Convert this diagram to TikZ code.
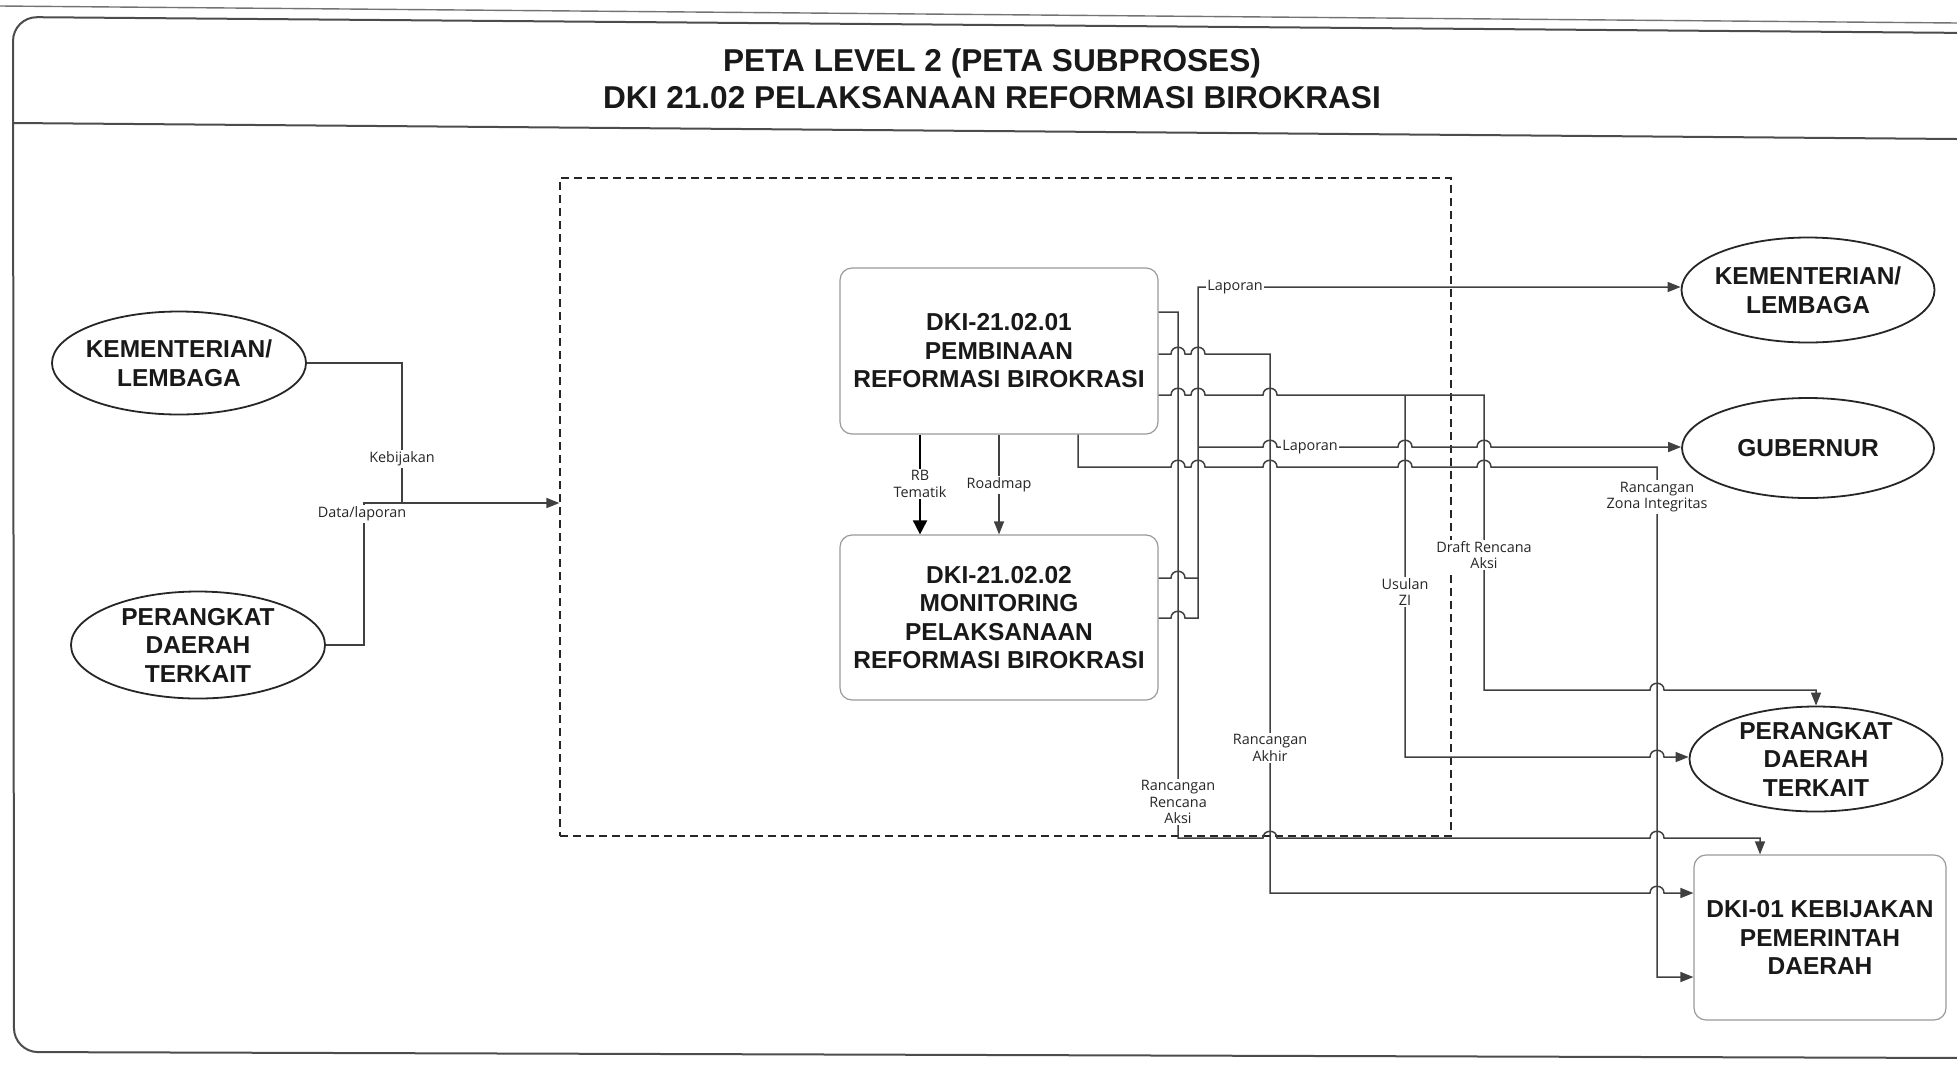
\documentclass[tikz,border=0pt]{standalone}
\usepackage{fontspec}
\setmainfont{Liberation Sans}
\newfontfamily\lblfont{Open Sans}
\usetikzlibrary{shapes.geometric,arrows.meta}
\begin{document}
\begin{tikzpicture}[x=0.5pt,y=-0.5pt,
  ln/.style={draw=black!75, line width=0.75pt},
  arr/.style={ln, -{Triangle[length=6.5pt,width=5pt]}},
  bigfont/.style={font=\fontsize{12.25}{14.25}\selectfont\bfseries},
  ent/.style={ellipse, draw=black!85, line width=0.9pt, inner sep=-4pt, align=center, bigfont, text=black!90},
  proc/.style={rectangle, rounded corners=6pt, draw=black!40, line width=0.6pt, inner sep=0pt, align=center, bigfont, text=black!90},
  lbl/.style={fill=white, inner sep=0.8pt, align=center, font=\lblfont\fontsize{7.2}{8.25}\selectfont, text=black!85},
  hop/.style 2 args={insert path={-- ({#1-7},#2) .. controls ({#1-7},{#2-9}) and ({#1+7},{#2-9}) .. ({#1+7},#2)}},
  frame/.style={draw=black!70, line width=1pt}
]
\useasboundingbox (0,0) rectangle (1957,1072);
% frame
\draw[frame, line width=0.7pt, draw=black!55] (0,6) -- (1957,23);
\draw[frame, rounded corners=12pt] (1975,33) -- (13,17) -- (14,1052) -- (1975,1058);
\draw[frame] (13,123) -- (1957,139);
% title
\node[font=\fontsize{15.8}{18.5}\selectfont\bfseries, align=center, text=black!90] (title) at (992,79)
  {PETA LEVEL 2 (PETA SUBPROSES)\\DKI 21.02 PELAKSANAAN REFORMASI BIROKRASI};
% group
\node[draw=black!85, dash pattern=on 4pt off 2.5pt, line width=0.6pt, minimum width=445.5pt, minimum height=329pt, inner sep=0pt] (grp) at (1005.5,507) {};
% nodes
\node[ent, minimum width=127pt, minimum height=51.5pt] (kl1) at (179,363) {KEMENTERIAN/\\LEMBAGA};
\node[ent, minimum width=127pt, minimum height=53.5pt] (pd1) at (198,645) {PERANGKAT\\DAERAH\\TERKAIT};
\node[ent, minimum width=126.5pt, minimum height=52.5pt] (kl2) at (1808,290) {KEMENTERIAN/\\LEMBAGA};
\node[ent, minimum width=126pt, minimum height=50pt] (gub) at (1808,448) {GUBERNUR};
\node[ent, minimum width=126.5pt, minimum height=52.5pt] (pd2) at (1816,759) {PERANGKAT\\DAERAH\\TERKAIT};
\node[proc, minimum width=159pt, minimum height=83pt] (b1) at (999,351) {DKI-21.02.01\\PEMBINAAN\\REFORMASI BIROKRASI};
\node[proc, minimum width=159pt, minimum height=82.5pt] (b2) at (999,617.5) {DKI-21.02.02\\MONITORING\\PELAKSANAAN\\REFORMASI BIROKRASI};
\node[proc, minimum width=126pt, minimum height=82.5pt] (d01) at (1820,937.5) {DKI-01 KEBIJAKAN\\PEMERINTAH\\DAERAH};
% helper levels
\coordinate (jn) at (402,503);
\coordinate (hA) at (0,312);
\coordinate (hB) at (0,354);
\coordinate (hC) at (0,395);
\coordinate (hL1) at (0,287);
\coordinate (hL2) at (0,447);
\coordinate (hD) at (0,467);
\coordinate (h2a) at (0,578);
\coordinate (h2b) at (0,618);
\coordinate (hDr) at (0,690);
\coordinate (hUs) at (0,757);
\coordinate (hRA) at (0,838);
\coordinate (hAk) at (0,893);
\coordinate (hZI) at (0,977);
\coordinate (vA) at (1178,0);
\coordinate (vL) at (1198,0);
\coordinate (vB) at (1270,0);
\coordinate (vU) at (1405,0);
\coordinate (vDr) at (1484,0);
\coordinate (vZ) at (1657,0);
\coordinate (vD) at (1078,0);
\coordinate (vRB) at (920,0);
\coordinate (vAe) at (1760,0);
% left inputs
\draw[ln] (kl1.east) -| (jn);
\draw[arr] (pd1.east) -| (364,503) -- (grp.west |- jn);
% internal arrows
\draw[draw=black, line width=0.9pt, -{Triangle[length=7pt,width=7pt]}] (b1.south -| vRB) -- (b2.north -| vRB);
\draw[arr] (b1.south) -- (b2.north);
% outputs box 1
\draw[arr] (b1.east |- hA) -- (vA |- hA) -- (vA |- hRA) [hop={1270}{838}] [hop={1657}{838}] -- (vAe |- hRA) -- (d01.north -| vAe);
\draw[arr] (b1.east |- hB) [hop={1178}{354}] [hop={1198}{354}] -- (vB |- hB) -- (vB |- hAk) [hop={1657}{893}] -- (d01.west |- hAk);
\draw[arr] (b1.east |- hC) [hop={1178}{395}] [hop={1198}{395}] [hop={1270}{395}] -- (vDr |- hC) -- (vDr |- hDr) [hop={1657}{690}] -- (pd2.north |- hDr) -- (pd2.north);
\draw[arr] (vU |- hC) -- (vU |- hUs) [hop={1657}{757}] -- (pd2.west |- hUs);
\draw[arr] (b1.south -| vD) -- (vD |- hD) [hop={1178}{467}] [hop={1198}{467}] [hop={1270}{467}] [hop={1405}{467}] [hop={1484}{467}] -- (vZ |- hD) -- (vZ |- hZI) -- (d01.west |- hZI);
% outputs box 2
\draw[arr] (b2.east |- h2a) [hop={1178}{578}] -- (vL |- h2a) -- (vL |- hL1) -- (kl2.west |- hL1);
\draw[ln] (b2.east |- h2b) [hop={1178}{618}] -- (vL |- h2b) -- (vL |- h2a);
\draw[arr] (vL |- hL2) [hop={1270}{447}] [hop={1405}{447}] [hop={1484}{447}] -- (gub.west |- hL2);
% labels
\node[lbl] (lk) at (402,459) {Kebijakan};
\node[lbl] (ld) at (362,514) {Data/laporan};
\node[lbl] (lrb) at (920,484) {RB\\Tematik};
\node[lbl] (lrm) at (999,485) {Roadmap};
\node[lbl] (ll1) at (1235,287) {Laporan};
\node[lbl] (ll2) at (1310,447) {Laporan};
\node[lbl] (lzi) at (1657,497) {Rancangan\\Zona Integritas};
\node[lbl] (ldr) at (1484,555) {Draft Rencana\\Aksi};
\node[lbl] (lus) at (1405,592) {Usulan\\ZI};
\node[lbl] (lak) at (1270,748) {Rancangan\\Akhir};
\node[lbl] (lra) at (1178,802) {Rancangan\\Rencana\\Aksi};
\end{tikzpicture}
\end{document}
